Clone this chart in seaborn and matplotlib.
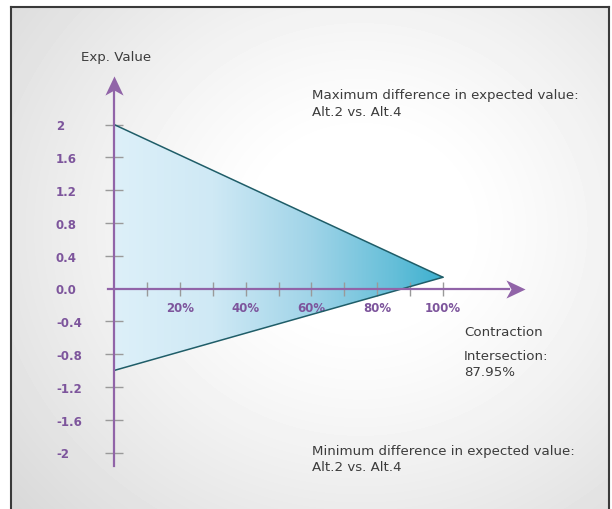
import numpy as np
import matplotlib
matplotlib.use("Agg")
import matplotlib.pyplot as plt
from matplotlib.colors import LinearSegmentedColormap
from matplotlib.patches import Polygon
from matplotlib.path import Path
import seaborn as sns

# data
contraction = [0, 100]            # % contraction
max_diff = [2.0, 0.137]           # Alt.2 vs Alt.4, maximum difference
min_diff = [-1.0, 0.137]          # Alt.2 vs Alt.4, minimum difference
intersection = 87.95

y_ticks = [2, 1.6, 1.2, 0.8, 0.4, 0.0, -0.4, -0.8, -1.2, -1.6, -2]
y_labels = ["2", "1.6", "1.2", "0.8", "0.4", "0.0", "-0.4", "-0.8", "-1.2", "-1.6", "-2"]
x_major = [20, 40, 60, 80, 100]
x_labels = ["20%", "40%", "60%", "80%", "100%"]
x_minor = [10, 30, 50, 70, 90]

sns.set_style("white")
plt.rcParams["font.family"] = ["DejaVu Sans"]

W, H = 612, 510
purple = "#9164a8"
label_purple = "#7d559c"
grey_tick = "#9a9a9a"
text_col = "#3c3c3c"

fig = plt.figure(figsize=(W / 100, H / 100), dpi=100)
fig.patch.set_facecolor("white")

# background panel with radial shading
bg = fig.add_axes([11 / W, 0, (609 - 11) / W, (510 - 8) / H])
yy, xx = np.mgrid[8:510, 11:609]
r = np.hypot(xx - 360, (yy - 230) * 1.1)
shade = np.clip((r - 100) / 360, 0, 1) ** 1.2
bg.imshow(1 - 0.15 * shade, cmap="gray", vmin=0, vmax=1, aspect="auto")
bg.set_xticks([])
bg.set_yticks([])
for s in ["left", "top", "right"]:
    bg.spines[s].set_color("#3a3a3a")
    bg.spines[s].set_linewidth(1.5)
bg.spines["bottom"].set_visible(False)

# main axes covering whole figure, mapped so that data lands at pixel spots
ax = fig.add_axes([0, 0, 1, 1])
ax.patch.set_alpha(0)
x0_px, x_scale = 114, 3.29      # px of 0 %, px per %
y0_px, y_scale = 289.5, 82      # px of 0, px per unit

# gradient fill of the triangle
cmap = LinearSegmentedColormap.from_list(
    "tri", [(0, "#ddf0f9"), (0.3, "#cfe9f5"), (0.6, "#a0d4e8"),
            (0.85, "#66bfd9"), (1.0, "#3db0cf")])
grad = np.linspace(0, 1, 256)[None, :]
im = ax.imshow(grad, extent=[contraction[0], contraction[-1], min(min_diff), max(max_diff)],
               aspect="auto", cmap=cmap, zorder=1)
verts = list(zip(contraction, max_diff)) + list(zip(contraction[::-1], min_diff[::-1]))
tri = Polygon(verts, closed=True, facecolor="none", edgecolor="none", transform=ax.transData)
ax.add_patch(tri)
im.set_clip_path(tri)

sns.lineplot(x=contraction, y=max_diff, ax=ax, color="#1f5d68", linewidth=1.1, zorder=3)
sns.lineplot(x=contraction, y=min_diff, ax=ax, color="#1f5d68", linewidth=1.1, zorder=3)

ax.set_xlim(-x0_px / x_scale, (W - x0_px) / x_scale)
ax.set_ylim(-(H - y0_px) / y_scale, y0_px / y_scale)

# axes lines through the origin
for s in ["top", "right"]:
    ax.spines[s].set_visible(False)
ax.spines["left"].set_position(("data", 0))
ax.spines["bottom"].set_position(("data", 0))
ax.spines["left"].set_bounds(-2.165, 2.45)
ax.spines["bottom"].set_bounds(-1.8, 120)
for s in ["left", "bottom"]:
    ax.spines[s].set_color(purple)
    ax.spines[s].set_linewidth(1.6)
    ax.spines[s].set_zorder(4)
ax.set_axisbelow(False)

# arrow heads
up = Path([(0, 10), (9, -9), (0, -4), (-9, -9), (0, 10)],
          [Path.MOVETO, Path.LINETO, Path.LINETO, Path.LINETO, Path.CLOSEPOLY])
right = Path([(10, 0), (-9, 9), (-4, 0), (-9, -9), (10, 0)],
             [Path.MOVETO, Path.LINETO, Path.LINETO, Path.LINETO, Path.CLOSEPOLY])
ax.plot([0], [(y0_px - 87) / y_scale], marker=up, markersize=14.5, color=purple,
        markeredgewidth=0, zorder=5, clip_on=False)
ax.plot([(515 - x0_px) / x_scale], [0], marker=right, markersize=14.5, color=purple,
        markeredgewidth=0, zorder=5, clip_on=False)

# ticks
ax.set_yticks(y_ticks, y_labels)
ax.set_xticks(x_major, x_labels)
ax.set_xticks(x_minor, minor=True)
ax.tick_params(axis="y", direction="inout", length=12.5, width=1, color=grey_tick,
               labelcolor=label_purple, pad=35.6, left=True)
ax.tick_params(axis="x", which="both", direction="inout", length=10, width=1,
               color=grey_tick, bottom=True)
ax.tick_params(axis="x", labelcolor=label_purple, pad=4.3)
for lab in ax.get_yticklabels():
    lab.set_horizontalalignment("left")
    lab.set_fontweight("bold")
    lab.set_fontsize(8.5)
for lab in ax.get_xticklabels():
    lab.set_fontweight("bold")
    lab.set_fontsize(8.5)
ax.yaxis.get_major_ticks()[y_ticks.index(0.0)].tick1line.set_visible(False)


def px_text(x, y, s, **kw):
    fig.text(x / W, 1 - y / H, s, color=text_col, fontsize=9.6, va="center", ha="left", **kw)


px_text(81, 57, "Exp. Value")
px_text(312, 95, "Maximum difference in expected value:")
px_text(312, 112, "Alt.2 vs. Alt.4")
px_text(464, 332, "Contraction")
px_text(464, 357, "Intersection:")
px_text(464, 373, f"{intersection:.2f}%")
px_text(312, 452, "Minimum difference in expected value:")
px_text(312, 468, "Alt.2 vs. Alt.4")

fig.savefig("out.png", dpi=100)
